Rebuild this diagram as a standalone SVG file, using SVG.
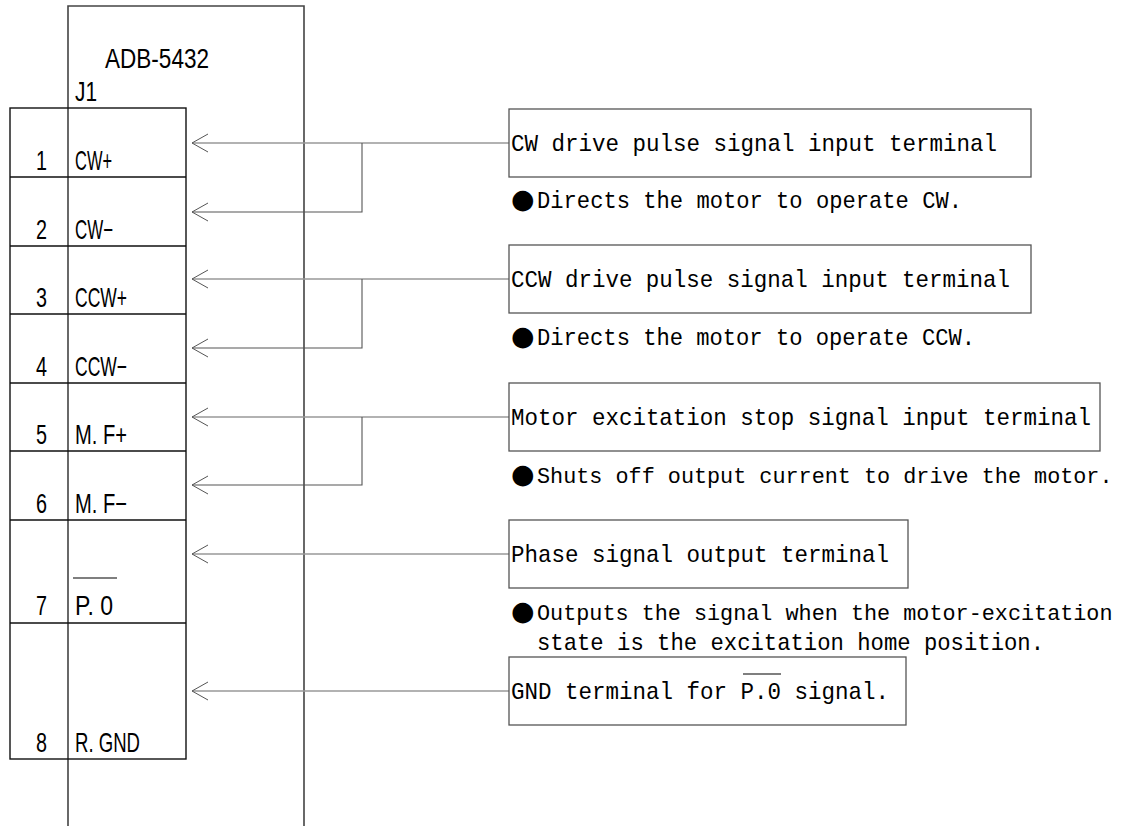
<svg xmlns="http://www.w3.org/2000/svg" width="1134" height="826" viewBox="0 0 1134 826">
<style>
.frame{fill:none;stroke:#444;stroke-width:1.6}
.tbl{fill:none;stroke:#111;stroke-width:1.4}
.lbl{font-family:"Liberation Sans",Arial,sans-serif;font-size:28px;fill:#000}
.num{font-family:"Liberation Sans",Arial,sans-serif;font-size:28px;fill:#000}
.box{fill:#fff;stroke:#555;stroke-width:1.3}
.bt{font-family:"Liberation Mono","Courier New",monospace;font-size:24px;fill:#000}
.dt{font-family:"Liberation Mono","Courier New",monospace;font-size:24px;fill:#000}
.dn{font-family:"Liberation Mono","Courier New",monospace;font-size:21.8px;fill:#000}
.b{font-family:"DejaVu Sans",sans-serif;font-size:27px}
.w1{fill:none;stroke:#999;stroke-width:1.6}
.w2{fill:none;stroke:#555;stroke-width:1.1}
.ov{stroke:#000;stroke-width:1.2}
</style>
<defs>
<path id="arr" d="M16,-9 L0,0 L16,9" fill="none" stroke="#555" stroke-width="1"/>
</defs>
<rect width="1134" height="826" fill="#fff"/>
<g id="unit">
<path class="frame" d="M68,826 V6 H304 V826"/>
<text class="lbl" x="105" y="68" textLength="104" lengthAdjust="spacingAndGlyphs">ADB-5432</text>
<text class="lbl" x="75" y="101" textLength="22" lengthAdjust="spacingAndGlyphs">J1</text>
</g>
<g id="connector-j1">
<rect class="tbl" x="10" y="108" width="176" height="651"/>
<path class="tbl" d="M10,177 H186 M10,246 H186 M10,314 H186 M10,383 H186 M10,451 H186 M10,520 H186 M10,623 H186"/>
</g>
<g id="pin1"><text class="num" x="36" y="170" textLength="11" lengthAdjust="spacingAndGlyphs">1</text><text class="lbl" x="75" y="170" textLength="37" lengthAdjust="spacingAndGlyphs">CW+</text></g>
<g id="pin2"><text class="num" x="36" y="239" textLength="11" lengthAdjust="spacingAndGlyphs">2</text><text class="lbl" x="75" y="239" textLength="38" lengthAdjust="spacingAndGlyphs">CW−</text></g>
<g id="pin3"><text class="num" x="36" y="307" textLength="11" lengthAdjust="spacingAndGlyphs">3</text><text class="lbl" x="75" y="307" textLength="52" lengthAdjust="spacingAndGlyphs">CCW+</text></g>
<g id="pin4"><text class="num" x="36" y="376" textLength="11" lengthAdjust="spacingAndGlyphs">4</text><text class="lbl" x="75" y="376" textLength="52" lengthAdjust="spacingAndGlyphs">CCW−</text></g>
<g id="pin5"><text class="num" x="36" y="444" textLength="11" lengthAdjust="spacingAndGlyphs">5</text><text class="lbl" x="75" y="444" textLength="52" lengthAdjust="spacingAndGlyphs">M. F+</text></g>
<g id="pin6"><text class="num" x="36" y="513" textLength="11" lengthAdjust="spacingAndGlyphs">6</text><text class="lbl" x="75" y="513" textLength="52" lengthAdjust="spacingAndGlyphs">M. F−</text></g>
<g id="pin7"><text class="num" x="36" y="615" textLength="11" lengthAdjust="spacingAndGlyphs">7</text><text class="lbl" x="75" y="615" textLength="38" lengthAdjust="spacingAndGlyphs">P. 0</text><line class="ov" x1="73" y1="578" x2="117" y2="578"/></g>
<g id="pin8"><text class="num" x="36" y="752" textLength="11" lengthAdjust="spacingAndGlyphs">8</text><text class="lbl" x="75" y="752" textLength="65" lengthAdjust="spacingAndGlyphs">R. GND</text></g>
<g id="connectors">
<path class="w1" d="M509,143 H192"/><path class="w2" d="M362,143 V212 H192"/>
<path class="w1" d="M509,279 H192"/><path class="w2" d="M362,279 V348 H192"/>
<path class="w1" d="M509,417 H192"/><path class="w2" d="M362,417 V485 H192"/>
<path class="w1" d="M509,554 H192"/>
<path class="w1" d="M509,691 H192"/>
<use href="#arr" x="192" y="143"/><use href="#arr" x="192" y="212"/>
<use href="#arr" x="192" y="279"/><use href="#arr" x="192" y="348"/>
<use href="#arr" x="192" y="417"/><use href="#arr" x="192" y="485"/>
<use href="#arr" x="192" y="554"/><use href="#arr" x="192" y="691"/>
</g>
<g id="cw-box">
<rect class="box" x="509" y="109" width="522" height="68"/>
<text class="bt" x="511" y="151" textLength="486" lengthAdjust="spacingAndGlyphs">CW drive pulse signal input terminal</text>
<text class="dt" x="511" y="208"><tspan class="b">●</tspan><tspan x="537" textLength="425" lengthAdjust="spacingAndGlyphs">Directs the motor to operate CW.</tspan></text>
</g>
<g id="ccw-box">
<rect class="box" x="509" y="245" width="522" height="68"/>
<text class="bt" x="511" y="287" textLength="499" lengthAdjust="spacingAndGlyphs">CCW drive pulse signal input terminal</text>
<text class="dt" x="511" y="345"><tspan class="b">●</tspan><tspan x="537" textLength="438" lengthAdjust="spacingAndGlyphs">Directs the motor to operate CCW.</tspan></text>
</g>
<g id="mf-box">
<rect class="box" x="509" y="383" width="591" height="68"/>
<text class="bt" x="511" y="425" textLength="580" lengthAdjust="spacingAndGlyphs">Motor excitation stop signal input terminal</text>
<text class="dn" x="511" y="483"><tspan class="b">●</tspan><tspan x="537">Shuts off output current to drive the motor.</tspan></text>
</g>
<g id="po-box">
<rect class="box" x="509" y="520" width="399" height="68"/>
<text class="bt" x="511" y="562" textLength="378" lengthAdjust="spacingAndGlyphs">Phase signal output terminal</text>
<text class="dn" x="511" y="620"><tspan class="b">●</tspan><tspan x="537">Outputs the signal when the motor-excitation</tspan></text>
<text class="dt" x="537" y="650" textLength="507" lengthAdjust="spacingAndGlyphs">state is the excitation home position.</text>
</g>
<g id="gnd-box">
<rect class="box" x="509" y="657" width="397" height="68"/>
<text class="bt" x="511" y="699" textLength="378" lengthAdjust="spacingAndGlyphs">GND terminal for P.0 signal.</text>
<line class="ov" x1="743" y1="674" x2="781" y2="674"/>
</g>
</svg>
